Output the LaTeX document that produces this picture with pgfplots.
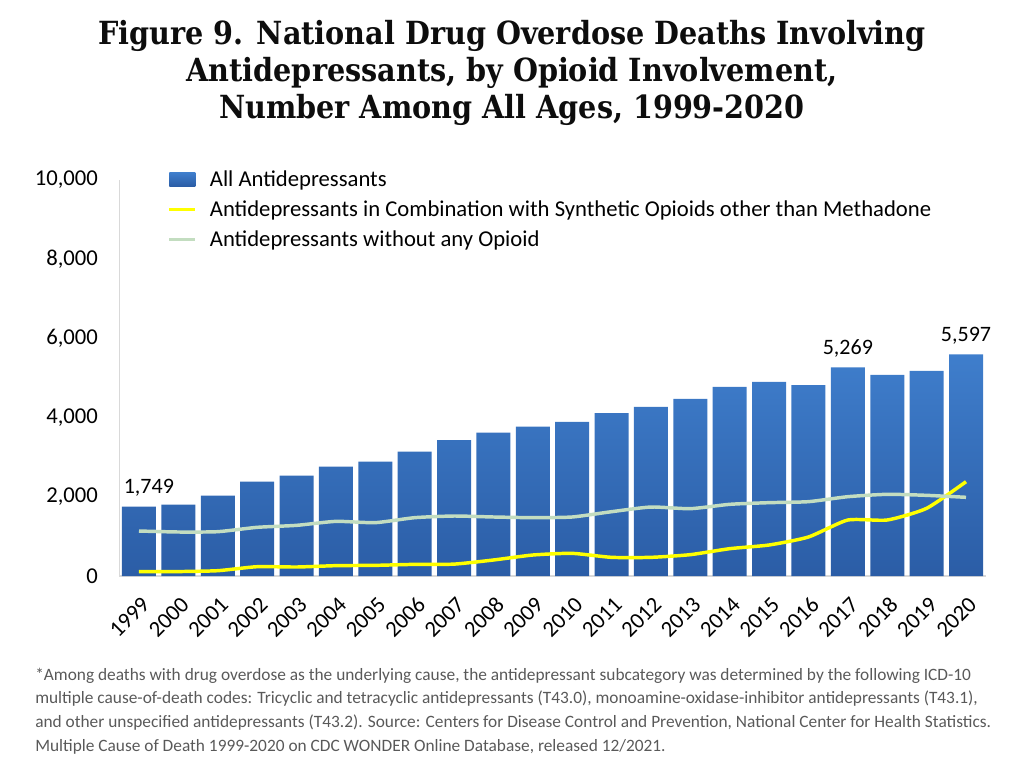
\documentclass[border=0pt]{standalone}
\usepackage{pgfplots}
\pgfplotsset{compat=1.18}
\usepackage{fontspec}
\setmainfont{Carlito}
\newfontfamily\titlefont{DejaVu Serif Condensed}
\definecolor{barTop}{HTML}{3F7ECC}
\definecolor{barBot}{HTML}{2B5DA6}
\definecolor{yel}{HTML}{FFFF00}
\definecolor{grn}{HTML}{C3DDC0}
\definecolor{axgray}{HTML}{D9D9D9}
\definecolor{foot}{HTML}{595959}

\pgfplotstableread{
x all syn noop
0 1749 109 1136
1 1800 112 1111
2 2028 134 1119
3 2381 235 1229
4 2533 227 1279
5 2760 261 1380
6 2886 269 1347
7 3139 294 1473
8 3434 300 1515
9 3619 404 1490
10 3770 530 1473
11 3889 572 1490
12 4116 471 1624
13 4268 471 1742
14 4470 539 1700
15 4773 690 1810
16 4899 783 1852
17 4823 985 1877
18 5269 1414 2003
19 5076 1414 2063
20 5177 1709 2037
21 5597 2381 1987
}\datatable

\begin{document}
\begin{tikzpicture}
\begin{scope}[x=0.75pt,y=0.75pt]
\path[use as bounding box] (0,0) rectangle (1024,768);
% title
\node[font=\titlefont\bfseries\fontsize{23.9}{27.5}\selectfont, align=center, text=black!95, anchor=north] at (512,752)
{Figure 9. National Drug Overdose Deaths Involving\\Antidepressants, by Opioid Involvement,\\Number Among All Ages, 1999-2020};
% footnote
\begin{scope}[every node/.style={anchor=base west, inner sep=0pt, text=foot, font=\fontsize{13}{15}\selectfont}]
\node at (35,88) {*Among deaths with drug overdose as the underlying cause, the antidepressant subcategory was determined by the following ICD-10};
\node at (35,64.3) {multiple cause-of-death codes: Tricyclic and tetracyclic antidepressants (T43.0), monoamine-oxidase-inhibitor antidepressants (T43.1),};
\node at (35,40.6) {and other unspecified antidepressants (T43.2). Source: Centers for Disease Control and Prevention, National Center for Health Statistics.};
\node at (35,16.9) {Multiple Cause of Death 1999-2020 on CDC WONDER Online Database, released 12/2021.};
\end{scope}
\end{scope}
\begin{axis}[
  scale only axis,
  anchor=south west,
  at={(89.475pt,144pt)},
  width=649.8pt, height=297pt,
  xmin=-0.5, xmax=21.5,
  ymin=0, ymax=10000,
  axis lines=left,
  axis line style={axgray, line width=0.8pt, -},
  xtick={0,...,21},
  xticklabels={1999,2000,2001,2002,2003,2004,2005,2006,2007,2008,2009,2010,2011,2012,2013,2014,2015,2016,2017,2018,2019,2020},
  x tick label style={rotate=45, anchor=east, inner sep=0pt, font=\fontsize{17}{19}\selectfont, xshift=-9.5pt, yshift=-16.7pt},
  ytick={0,2000,4000,6000,8000,10000},
  scaled y ticks=false,
  y tick label style={font=\fontsize{17}{19}\selectfont, /pgf/number format/fixed, /pgf/number format/1000 sep={,}},
  /pgf/number format/assume math mode=true,
  yticklabel style={xshift=-12.5pt},
  major tick length=0pt,
  tick style={draw=none},
  legend cell align=left,
  legend style={draw=none, fill=none, at={(0.051,1.038)}, anchor=north west,
    font=\fontsize{17}{19}\selectfont, row sep=5.3pt, column sep=7.5pt},
  clip=false,
]
\addplot[ybar, bar width=25.5pt, draw=none, top color=barTop, bottom color=barBot,
  area legend, legend image code/.code={\fill[top color=barTop, bottom color=barBot] (0cm,-5pt) rectangle (19.5pt,5pt);}]
  table[x=x,y=all]{\datatable};
\addlegendentry{All Antidepressants}
\addplot[yel, line width=2.6pt, smooth, tension=0.35, no markers,
  legend image code/.code={\draw[yel, line width=2.6pt] (0cm,0cm) -- (19.5pt,0cm);}]
  table[x=x,y=syn]{\datatable};
\addlegendentry{Antidepressants in Combination with Synthetic Opioids other than Methadone}
\addplot[grn, line width=2.6pt, smooth, tension=0.35, no markers,
  legend image code/.code={\draw[grn, line width=2.6pt] (0cm,0cm) -- (19.5pt,0cm);}]
  table[x=x,y=noop]{\datatable};
\addlegendentry{Antidepressants without any Opioid}
\node[font=\fontsize{16.5}{18}\selectfont, anchor=south] at (axis cs:0.25,1749) [yshift=4pt] {1,749};
\node[font=\fontsize{16.5}{18}\selectfont, anchor=south] at (axis cs:18,5269) [yshift=4pt] {5,269};
\node[font=\fontsize{16.5}{18}\selectfont, anchor=south] at (axis cs:21,5597) [yshift=4pt] {5,597};
\end{axis}
\end{tikzpicture}
\end{document}
